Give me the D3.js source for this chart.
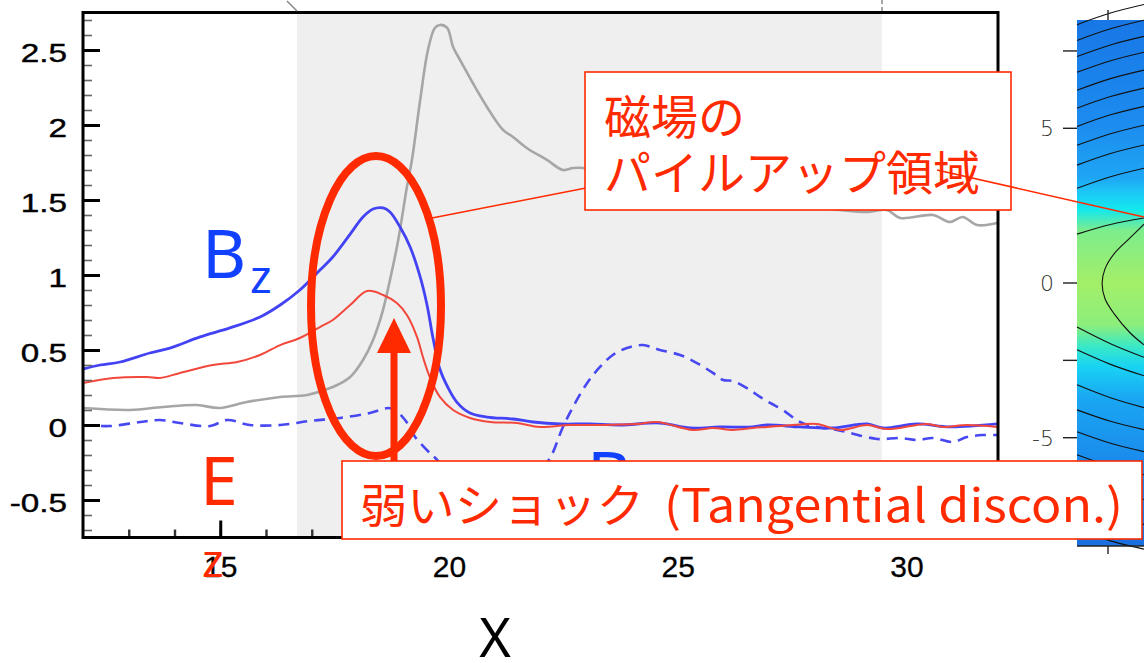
<!DOCTYPE html>
<html>
<head>
<meta charset="utf-8">
<script src="https://cdn.jsdelivr.net/npm/d3@7"></script>
<style>
  body { margin: 0; background: #fff; }
  svg { display: block; }
</style>
</head>
<body>
<svg id="chart" width="1144" height="663"></svg>
<script>
/* ── data ───────────────────────────────────────────── */

// B_z (solid blue)
const bzX = [12.00, 12.37, 12.81, 13.46, 13.90, 14.56, 15.21, 15.87, 16.31, 16.74, 17.18, 17.46, 17.84, 18.12, 18.34, 18.56, 18.71, 18.93, 19.15, 19.37, 19.52, 19.65, 19.80, 19.96, 20.17, 20.46, 20.83, 21.40, 21.84, 22.43, 23.08, 23.74, 24.61, 25.27, 25.92, 26.64, 26.95, 27.67, 28.39, 29.14, 29.49, 30.23, 30.95, 31.98];
const bzY = [0.373, 0.40, 0.42, 0.48, 0.513, 0.587, 0.647, 0.72, 0.80, 0.90, 1.033, 1.12, 1.273, 1.387, 1.44, 1.447, 1.42, 1.32, 1.187, 0.987, 0.80, 0.58, 0.373, 0.26, 0.153, 0.08, 0.053, 0.04, 0.02, 0.007, 0.007, 0.0, 0.013, -0.02, -0.013, -0.013, 0.0, -0.013, -0.02, 0.007, -0.02, 0.007, -0.013, 0.007];

// E_z (solid red)
const ezX = [12.00, 12.66, 13.40, 13.68, 14.12, 14.84, 15.37, 15.87, 16.31, 16.74, 17.18, 17.46, 17.84, 18.21, 18.56, 18.86, 19.08, 19.30, 19.43, 19.58, 19.80, 20.09, 20.46, 20.90, 21.49, 21.99, 22.64, 23.37, 24.11, 24.55, 25.33, 25.77, 26.21, 26.64, 26.95, 27.52, 28.04, 28.55, 29.14, 29.57, 30.45, 30.80, 31.32, 31.98];
const ezY = [0.28, 0.313, 0.32, 0.313, 0.347, 0.40, 0.42, 0.467, 0.533, 0.58, 0.653, 0.70, 0.80, 0.893, 0.867, 0.813, 0.733, 0.587, 0.453, 0.32, 0.187, 0.10, 0.047, 0.02, 0.013, -0.013, 0.0, 0.0, 0.007, 0.02, -0.033, -0.02, -0.033, -0.02, -0.013, 0.0, 0.007, -0.033, 0.0, -0.027, 0.007, -0.013, 0.0, -0.013];

// density (grey)
const nX = [12.00, 13.03, 13.75, 14.49, 14.99, 15.58, 16.31, 16.90, 17.46, 17.84, 18.12, 18.34, 18.54, 18.71, 18.89, 19.08, 19.19, 19.37, 19.54, 19.69, 19.80, 19.96, 20.09, 20.28, 20.52, 20.83, 21.18, 21.40, 21.70, 22.14, 22.49, 22.71, 22.93, 23.74, 25.05, 26.36, 27.67, 28.55, 29.14, 29.57, 29.86, 30.58, 30.95, 31.23, 31.54, 31.98];
const nY = [0.113, 0.10, 0.12, 0.133, 0.113, 0.153, 0.187, 0.20, 0.253, 0.32, 0.433, 0.567, 0.747, 0.967, 1.233, 1.587, 1.767, 2.167, 2.50, 2.647, 2.667, 2.647, 2.52, 2.413, 2.28, 2.12, 1.967, 1.92, 1.847, 1.767, 1.70, 1.713, 1.713, 1.647, 1.567, 1.513, 1.467, 1.433, 1.42, 1.433, 1.38, 1.40, 1.353, 1.387, 1.333, 1.347];

// B (dashed blue)
const bdX = [12.00, 12.59, 13.25, 13.68, 14.12, 14.78, 15.15, 15.65, 16.31, 16.96, 17.62, 18.27, 18.67, 18.82, 19.04, 19.26, 19.58, 19.74, 20.24, 20.90, 21.55, 21.99, 22.21, 22.49, 22.71, 23.02, 23.30, 23.58, 23.89, 24.24, 24.61, 25.05, 25.42, 25.77, 25.99, 26.21, 26.58, 26.80, 27.02, 27.30, 27.67, 28.04, 28.48, 28.77, 29.36, 29.86, 30.23, 30.58, 31.02, 31.32, 31.67, 31.98];
const bdY = [0.0, -0.007, 0.02, 0.033, 0.013, -0.007, 0.033, 0.0, 0.0, 0.027, 0.047, 0.08, 0.113, 0.10, 0.033, -0.08, -0.187, -0.233, -0.433, -0.533, -0.467, -0.30, -0.22, -0.013, 0.12, 0.28, 0.387, 0.467, 0.513, 0.533, 0.50, 0.467, 0.413, 0.347, 0.30, 0.293, 0.233, 0.187, 0.147, 0.10, 0.02, -0.013, -0.033, -0.053, -0.093, -0.087, -0.10, -0.087, -0.113, -0.08, -0.067, -0.067];

const shadeRange = [16.68, 29.46];
const yMajorTicks = [-0.5, 0, 0.5, 1, 1.5, 2, 2.5];
const xMajorTicks = [15, 20, 25, 30];

// right-hand colour map panel
const panelTicks = [7.5, 5, 0, -2.5, -5, -7.5];
const panelLabels = [5, 0, -5];
const cmapOffsets = [0, 0.2, 0.3, 0.33, 0.36, 0.4, 0.5, 0.58, 0.62, 0.66, 0.72, 0.85, 1];
const cmapColors = ['#1877e6', '#1c8cef', '#1ea6f4', '#1ccaf6', '#12e8ee', '#7ded8c', '#a3ef68', '#8cee7c', '#3ae9c6', '#18d2f4', '#1aa6f2', '#1a88ec', '#1a6fe0'];
const upperLeft  = [8.35, 7.84, 7.32, 6.81, 6.23, 5.65, 5.06, 4.45, 3.81, 3.06, 1.58];
const upperRight = [9.0, 8.49, 7.97, 7.46, 6.88, 6.30, 5.71, 5.10, 4.46, 3.71, 2.10];
const lowerLeft  = [-1.42, -2.16, -3.29, -4.10, -4.81, -5.55, -6.35, -7.16, -7.97];
const lowerRight = [-2.40, -3.00, -4.03, -4.74, -5.45, -6.20, -7.0, -7.8, -8.6];
const loopX = [2.16, 1.7, 1.2, 0.9, 0.81, 0.9, 1.2, 1.7, 2.16];
const loopY = [1.9, 1.45, 0.95, 0.45, 0.0, -0.5, -1.0, -1.6, -2.0];

/* ── chart ─────────────────────────────────────────── */
const svg = d3.select('#chart');
const RED = '#ff2a00';
const BLUE_TXT = '#1240ff';

const x = d3.scaleLinear().domain([12, 32]).range([83, 998]);
const y = d3.scaleLinear().domain([-0.75, 2.75]).range([537.5, 12.5]);

const defs = svg.append('defs');
defs.append('clipPath').attr('id', 'plot-clip')
  .append('rect').attr('x', 83).attr('y', 12.5).attr('width', 915).attr('height', 525);

// shaded zoom window
svg.append('rect')
  .attr('x', x(shadeRange[0])).attr('y', 12.5)
  .attr('width', x(shadeRange[1]) - x(shadeRange[0])).attr('height', 525)
  .attr('fill', '#efefef');

const line = d3.line().x(d => x(d[0])).y(d => y(d[1])).curve(d3.curveCatmullRom.alpha(0.5));
const curves = svg.append('g').attr('clip-path', 'url(#plot-clip)').attr('fill', 'none');

curves.append('path').attr('d', line(d3.zip(nX, nY)))
  .attr('stroke', '#a6a6a6').attr('stroke-width', 2.6);
curves.append('path').attr('d', line(d3.zip(bdX, bdY)))
  .attr('stroke', '#4848f2').attr('stroke-width', 2.6).attr('stroke-dasharray', '11,7');
curves.append('path').attr('d', line(d3.zip(bzX, bzY)))
  .attr('stroke', '#4343f5').attr('stroke-width', 2.8);
curves.append('path').attr('d', line(d3.zip(ezX, ezY)))
  .attr('stroke', '#f2483c').attr('stroke-width', 2);

// axes (ticks point inward)
const yMinor = d3.range(-7, 28).map(v => v / 10);
const gy = svg.append('g').attr('transform', 'translate(83,0)');
gy.append('g').call(d3.axisLeft(y).tickValues(yMinor).tickSize(-9).tickFormat(''))
  .call(g => g.select('.domain').remove())
  .selectAll('line').attr('stroke', '#666').attr('stroke-width', 1.6);
gy.append('g').call(d3.axisLeft(y).tickValues(yMajorTicks).tickSizeInner(-17).tickSizeOuter(0)
    .tickPadding(16).tickFormat(d => String(d)))
  .call(g => g.select('.domain').remove())
  .call(g => g.selectAll('line').attr('stroke', '#000').attr('stroke-width', 3))
  .call(g => g.selectAll('text')
    .attr('x', 0).attr('dy', '0.45em')
    .attr('transform', 'translate(-16,0) scale(1.28,1)')
    .attr('font-size', 26).attr('font-family', 'Liberation Sans, Arial, sans-serif')
    .attr('fill', '#000').attr('stroke', '#000').attr('stroke-width', 0.4));

const gx = svg.append('g').attr('transform', 'translate(0,537.5)');
gx.append('g').call(d3.axisBottom(x).tickValues(d3.range(13, 32)).tickSize(-8).tickFormat(''))
  .call(g => g.select('.domain').remove())
  .selectAll('line').attr('stroke', '#333').attr('stroke-width', 2.4);
gx.append('g').call(d3.axisBottom(x).tickValues(xMajorTicks).tickSizeInner(-17).tickSizeOuter(0)
    .tickPadding(18).tickFormat(d => String(d)))
  .call(g => g.select('.domain').remove())
  .call(g => g.selectAll('line').attr('stroke', '#000').attr('stroke-width', 3))
  .call(g => g.selectAll('text')
    .attr('font-size', 30).attr('font-family', 'Liberation Sans, Arial, sans-serif')
    .attr('fill', '#000').attr('stroke', '#000').attr('stroke-width', 0.3));

// frame
svg.append('rect').attr('x', 83).attr('y', 12.5).attr('width', 915).attr('height', 525)
  .attr('fill', 'none').attr('stroke', '#000').attr('stroke-width', 3);

// little zoom-indicator marks above the frame
svg.append('line').attr('x1', 287).attr('y1', 1).attr('x2', 297).attr('y2', 11)
  .attr('stroke', '#888').attr('stroke-width', 1.5);
svg.append('line').attr('x1', 882).attr('y1', 0).attr('x2', 882).attr('y2', 11)
  .attr('stroke', '#888').attr('stroke-width', 1.5).attr('stroke-dasharray', '4,3');

/* ── right panel ───────────────────────────────────── */
const px = d3.scaleLinear().domain([0, 2.16]).range([1077, 1144]);
const py = d3.scaleLinear().domain([-8.5, 8.5]).range([546, 20]);

const grad = defs.append('linearGradient').attr('id', 'cmap')
  .attr('x1', 0).attr('y1', 0).attr('x2', 0).attr('y2', 1);
grad.selectAll('stop').data(cmapOffsets).join('stop')
  .attr('offset', d => d).attr('stop-color', (d, i) => cmapColors[i]);

svg.append('rect').attr('x', px(0)).attr('y', py(8.5))
  .attr('width', px(2.16) - px(0)).attr('height', py(-8.5) - py(8.5))
  .attr('fill', 'url(#cmap)');

const contours = svg.append('g').attr('fill', 'none').attr('stroke', '#111').attr('stroke-width', 1.1);
const cline = d3.line().x(d => px(d[0])).y(d => py(d[1])).curve(d3.curveCatmullRom);
upperLeft.forEach((v, i) => {
  contours.append('path').attr('d', cline([[0, v], [1.08, (v + upperRight[i]) / 2 + 0.05], [2.16, upperRight[i]]]));
});
lowerLeft.forEach((v, i) => {
  contours.append('path').attr('d', cline([[0, v], [1.08, (v + lowerRight[i]) / 2 - 0.05], [2.16, lowerRight[i]]]));
});
contours.append('path').attr('d', cline(d3.zip(loopX, loopY)));

const pAxis = svg.append('g').attr('stroke', '#222').attr('stroke-width', 1.4);
panelTicks.forEach(t => {
  pAxis.append('line').attr('x1', 1063).attr('x2', 1077).attr('y1', py(t)).attr('y2', py(t));
});
pAxis.append('line').attr('x1', 1077).attr('x2', 1144).attr('y1', py(-8.5)).attr('y2', py(-8.5));
pAxis.append('line').attr('x1', px(1)).attr('x2', px(1)).attr('y1', py(-8.5)).attr('y2', py(-8.5) + 8);
pAxis.append('line').attr('x1', px(1)).attr('x2', px(1)).attr('y1', 10).attr('y2', py(8.5));
svg.append('g').selectAll('text').data(panelLabels).join('text')
  .attr('x', 1054).attr('y', d => py(d)).attr('dy', '0.36em')
  .attr('text-anchor', 'end').attr('font-size', 22)
  .attr('font-family', 'DejaVu Sans, sans-serif').attr('font-weight', 200).attr('fill', '#333')
  .text(d => String(d));

/* ── annotations ───────────────────────────────────── */
const lab = svg.append('g').attr('font-family', 'Noto Sans, sans-serif');
lab.append('text').attr('x', 202).attr('y', 278).attr('font-size', 68).attr('fill', BLUE_TXT).text('B');
lab.append('text').attr('x', 250).attr('y', 293).attr('font-size', 46).attr('fill', BLUE_TXT).text('z');
lab.append('text').attr('x', 200).attr('y', 505).attr('font-size', 68).attr('fill', RED).text('E');
lab.append('text').attr('x', 202).attr('y', 577).attr('font-size', 46).attr('fill', RED).text('z');
lab.append('text').attr('x', 587).attr('y', 500).attr('font-size', 68).attr('fill', BLUE_TXT).text('B');
lab.append('text').attr('x', 495).attr('y', 657).attr('text-anchor', 'middle')
  .attr('font-size', 54).attr('fill', '#000').text('X');

// ellipse + arrow marking the pile-up
svg.append('ellipse').attr('cx', 376).attr('cy', 306).attr('rx', 65).attr('ry', 150)
  .attr('fill', 'none').attr('stroke', RED).attr('stroke-width', 8);
svg.append('line').attr('x1', 394).attr('y1', 470).attr('x2', 394).attr('y2', 350)
  .attr('stroke', RED).attr('stroke-width', 7);
svg.append('path').attr('d', 'M394,318 L377,353 L411,353 Z').attr('fill', RED);

// leader lines
svg.append('line').attr('x1', 432).attr('y1', 218).attr('x2', 586).attr('y2', 188)
  .attr('stroke', RED).attr('stroke-width', 1.5);

// call-out boxes
svg.append('rect').attr('x', 585).attr('y', 72).attr('width', 426).attr('height', 138)
  .attr('fill', '#fff').attr('stroke', RED).attr('stroke-width', 1.6);
const jp = 'Noto Sans CJK JP, sans-serif';
svg.append('text').attr('x', 604).attr('y', 134).attr('font-family', jp).attr('font-size', 47)
  .attr('fill', RED).text('磁場の');
svg.append('text').attr('x', 604).attr('y', 190).attr('font-family', jp).attr('font-size', 47)
  .attr('fill', RED).text('パイルアップ領域');
svg.append('line').attr('x1', 937).attr('y1', 170).attr('x2', 1144).attr('y2', 217)
  .attr('stroke', RED).attr('stroke-width', 1.5);

svg.append('rect').attr('x', 342).attr('y', 461).attr('width', 800).attr('height', 78)
  .attr('fill', '#fff').attr('stroke', RED).attr('stroke-width', 1.6);
svg.append('text').attr('x', 360).attr('y', 522).attr('font-family', jp).attr('font-size', 46)
  .attr('textLength', 284).attr('lengthAdjust', 'spacingAndGlyphs')
  .attr('fill', RED).text('弱いショック');
svg.append('text').attr('x', 664).attr('y', 522).attr('font-family', jp).attr('font-size', 46)
  .attr('textLength', 459).attr('lengthAdjust', 'spacingAndGlyphs')
  .attr('fill', RED).text('(Tangential discon.)');
</script>
</body>
</html>
